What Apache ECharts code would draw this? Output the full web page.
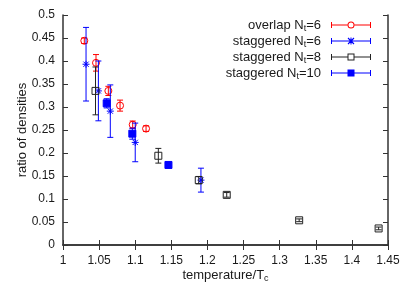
<!DOCTYPE html>
<html>
<head>
<meta charset="utf-8">
<script src="https://cdn.jsdelivr.net/npm/echarts@6/dist/echarts.min.js"></script>
<style>html,body{margin:0;padding:0;background:#fff}#c{width:415px;height:291px}</style>
</head>
<body>
<div id="c"></div>
<script>
// ---- data ----
const seriesNames = ['overlap N{sub|t}=6', 'staggered N{sub|t}=6', 'staggered N{sub|t}=8', 'staggered N{sub|t}=10'];

const overlap6T = [1.0295, 1.0457, 1.0628, 1.079, 1.0965, 1.115];
const overlap6R = [0.444, 0.396, 0.335, 0.303, 0.2615, 0.253];
const overlap6E = [0.006, 0.018, 0.010, 0.012, 0.008, 0.006];

const stag6T = [1.0319, 1.049, 1.0655, 1.100, 1.191];
const stag6R = [0.393, 0.335, 0.291, 0.223, 0.141];
const stag6E = [0.080, 0.065, 0.057, 0.042, 0.026];

const stag8T = [1.045, 1.132, 1.188, 1.2267, 1.327, 1.437];
const stag8R = [0.335, 0.194, 0.141, 0.109, 0.0537, 0.036];
const stag8E = [0.052, 0.016, 0.008, 0.005, 0.003, 0.003];

const stag10T = [1.0605, 1.096, 1.146];
const stag10R = [0.308, 0.242, 0.174];
const stag10E = [0.010, 0.012, 0.004];

const xTicks = {min: 1, max: 1.45, step: 0.05};
const yTicks = {min: 0, max: 0.5, step: 0.05};

// ---- chart ----
const FONT = 'Liberation Sans';
const TXT = '#1a1a1a';
const colors = ['#ff0000', '#0000ff', '#222222', '#0000ff'];
const markers = ['circle', 'star', 'square', 'fsquare'];

function zip(t, r, e) { return t.map((v, i) => [v, r[i], e[i]]); }

function markerShape(kind, cx, cy, color) {
  const s = 3.5;
  if (kind === 'circle') return {type: 'circle', shape: {cx, cy, r: s}, style: {stroke: color, fill: null, lineWidth: 1}};
  if (kind === 'square') return {type: 'rect', shape: {x: cx - s, y: cy - s, width: 2 * s, height: 2 * s}, style: {stroke: color, fill: null, lineWidth: 1}};
  if (kind === 'fsquare') return {type: 'rect', shape: {x: cx - s, y: cy - s, width: 2 * s, height: 2 * s}, style: {stroke: color, fill: color, lineWidth: 1}};
  // star (*)
  const st = {stroke: color, lineWidth: 1};
  return {type: 'group', children: [
    {type: 'line', shape: {x1: cx - s, y1: cy, x2: cx + s, y2: cy}, style: st},
    {type: 'line', shape: {x1: cx, y1: cy - s, x2: cx, y2: cy + s}, style: st},
    {type: 'line', shape: {x1: cx - s * 0.75, y1: cy - s * 0.75, x2: cx + s * 0.75, y2: cy + s * 0.75}, style: st},
    {type: 'line', shape: {x1: cx - s * 0.75, y1: cy + s * 0.75, x2: cx + s * 0.75, y2: cy - s * 0.75}, style: st}
  ]};
}

function makeRender(color, kind) {
  return function (params, api) {
    const x = api.value(0), y = api.value(1), e = api.value(2);
    const c = api.coord([x, y]);
    const hi = api.coord([x, y + e]);
    const lo = api.coord([x, y - e]);
    const cw = 3;
    const st = {stroke: color, lineWidth: 1};
    return {type: 'group', children: [
      {type: 'line', shape: {x1: c[0], y1: hi[1], x2: c[0], y2: lo[1]}, style: st},
      {type: 'line', shape: {x1: c[0] - cw, y1: hi[1], x2: c[0] + cw, y2: hi[1]}, style: st},
      {type: 'line', shape: {x1: c[0] - cw, y1: lo[1], x2: c[0] + cw, y2: lo[1]}, style: st},
      markerShape(kind, c[0], c[1], color)
    ]};
  };
}

// legend icon paths (40 x 7 box, y 0.5..7.5)
const lineL = 'M0 3.5H16.5V4.5H0Z', lineR = 'M23.5 3.5H40V4.5H23.5Z', lineFull = 'M0 3.5H40V4.5H0Z';
const caps = 'M0 1H1V7H0Z M39 1H40V7H39Z';
const icons = [
  'path://' + lineL + ' ' + lineR + ' ' + caps + ' M23.5 4A3.5 3.5 0 1 1 16.5 4A3.5 3.5 0 1 1 23.5 4Z M22.5 4A2.5 2.5 0 1 0 17.5 4A2.5 2.5 0 1 0 22.5 4Z',
  'path://' + lineFull + ' ' + caps + ' M19.5 0.5H20.5V7.5H19.5Z M16.6 1.4L17.4 0.6L23.4 6.6L22.6 7.4Z M17.4 7.4L16.6 6.6L22.6 0.6L23.4 1.4Z',
  'path://' + lineL + ' ' + lineR + ' ' + caps + ' M16.5 0.5H23.5V7.5H16.5Z M17.5 1.5V6.5H22.5V1.5Z',
  'path://' + lineFull + ' ' + caps + ' M16.5 0.5H23.5V7.5H16.5Z'
];

const datasets = [
  zip(overlap6T, overlap6R, overlap6E),
  zip(stag6T, stag6R, stag6E),
  zip(stag8T, stag8R, stag8E),
  zip(stag10T, stag10R, stag10E)
];

const series = datasets.map((d, i) => ({
  name: seriesNames[i],
  type: 'custom',
  data: d,
  encode: {x: 0, y: 1},
  itemStyle: {color: colors[i]},
  renderItem: makeRender(colors[i], markers[i]),
  clip: false
}));

const subRich = {sub: {fontSize: 9, padding: [7, 0, 0, 0], lineHeight: 9, fontFamily: FONT, color: TXT}};

const axisLine = {show: true, lineStyle: {color: '#333', width: 1.5}};
const tick = {show: true, inside: true, length: 5, lineStyle: {color: '#333', width: 1}};

const chart = echarts.init(document.getElementById('c'), null, {renderer: 'canvas'});
chart.setOption({
  animation: false,
  backgroundColor: '#fff',
  grid: {left: 63, right: 27, top: 15, bottom: 46},
  legend: {
    orient: 'vertical',
    right: 44,
    top: 17,
    align: 'right',
    itemWidth: 40,
    itemHeight: 7,
    itemGap: 0,
    padding: 0,
    itemStyle: {borderWidth: 0},
    textStyle: {fontFamily: FONT, fontSize: 13, lineHeight: 15, color: TXT, padding: [0, 5, 0, 0], rich: subRich},
    data: seriesNames.map((n, i) => ({name: n, icon: icons[i]}))
  },
  xAxis: [{
    type: 'value', min: xTicks.min, max: xTicks.max, interval: xTicks.step,
    axisLine, axisTick: tick, splitLine: {show: false},
    axisLabel: {fontFamily: FONT, fontSize: 12, color: TXT, margin: 10},
    name: 'temperature/T{sub|c}', nameLocation: 'middle', nameGap: 24, nameMoveOverlap: false,
    nameTextStyle: {fontFamily: FONT, fontSize: 13, color: TXT, rich: subRich}
  }, {
    type: 'value', position: 'top', min: xTicks.min, max: xTicks.max, interval: xTicks.step,
    axisLine, axisTick: tick, splitLine: {show: false}, axisLabel: {show: false}
  }],
  yAxis: [{
    type: 'value', min: yTicks.min, max: yTicks.max, interval: yTicks.step,
    axisLine, axisTick: tick, splitLine: {show: false},
    axisLabel: {fontFamily: FONT, fontSize: 12, color: TXT, margin: 8},
    name: 'ratio of densities', nameLocation: 'middle', nameGap: 34, nameMoveOverlap: false,
    nameTextStyle: {fontFamily: FONT, fontSize: 13, color: TXT}
  }, {
    type: 'value', position: 'right', min: yTicks.min, max: yTicks.max, interval: yTicks.step,
    axisLine, axisTick: tick, splitLine: {show: false}, axisLabel: {show: false}
  }],
  series
});
</script>
</body>
</html>
